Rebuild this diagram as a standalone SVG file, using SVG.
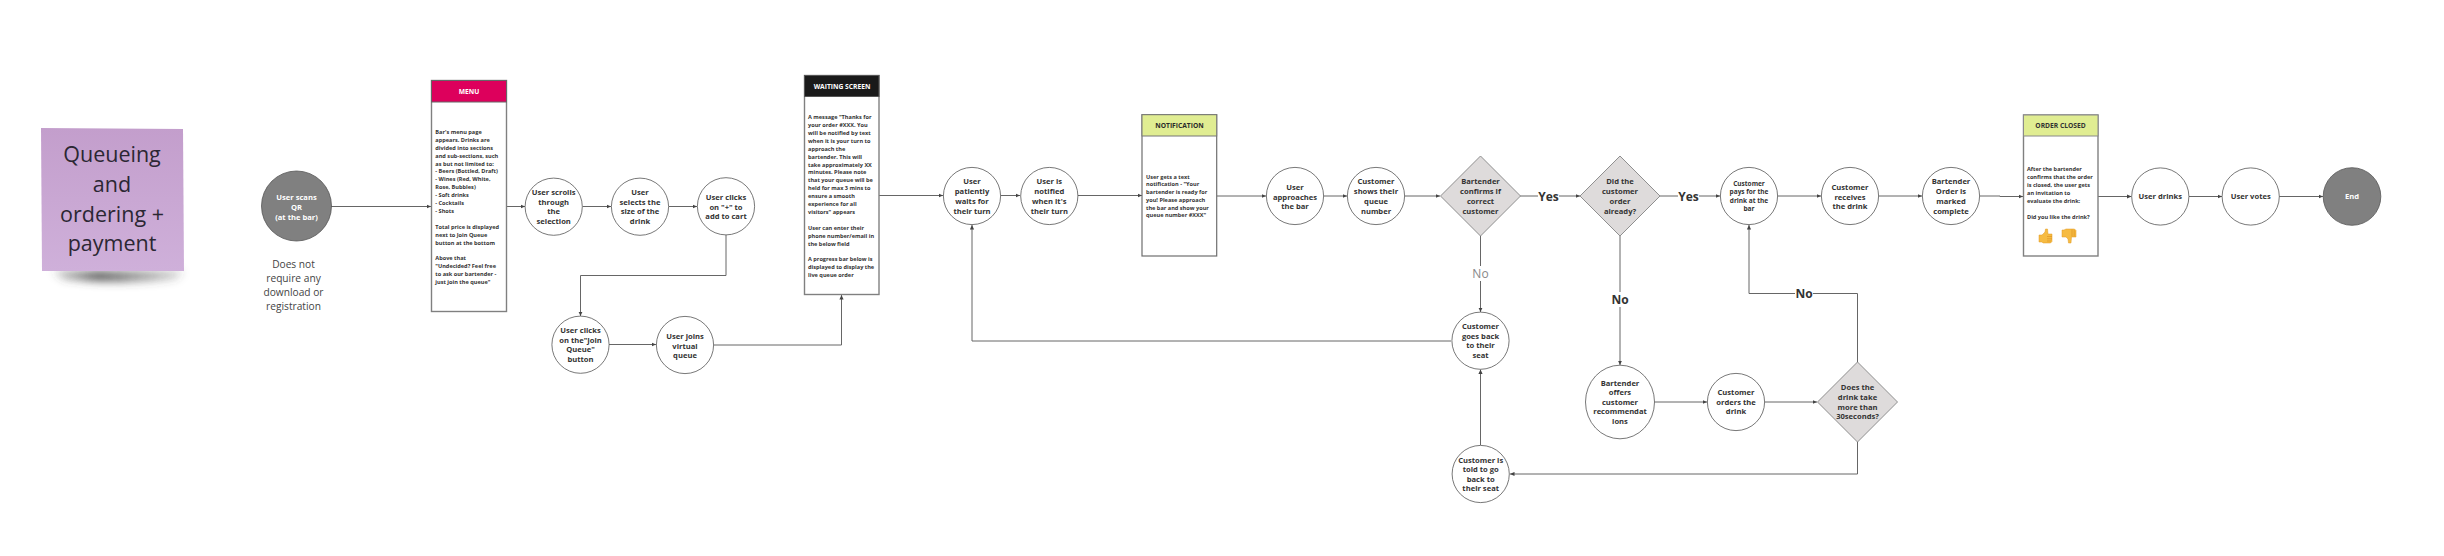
<svg xmlns="http://www.w3.org/2000/svg" width="2444" height="556" viewBox="0 0 2444 556">
<style>
text{font-family:"Open Sans","Noto Sans","Liberation Sans",sans-serif;fill:#333}
.c{fill:#fff;stroke:#555;stroke-width:.8}
.d{fill:#dedbdb;stroke:#8f8f8f;stroke-width:1}
.t{font-size:7.6px;font-weight:700;text-anchor:middle}
.p{font-size:5.6px;font-weight:700}
.b{fill:#fff;stroke:#808080;stroke-width:1.4}
.h{font-size:6.7px;font-weight:700;text-anchor:middle}
.l{fill:none;stroke:#666;stroke-width:1;marker-end:url(#a)}
.y{font-size:12px;font-weight:700;text-anchor:middle}
.e{fill:#f6bb42;stroke:#e09a25;stroke-width:.5}
.f{fill:none;stroke:#d98f1f;stroke-width:.6}
</style>
<defs>
<marker id="a" markerUnits="userSpaceOnUse" markerWidth="5" markerHeight="5" refX="4.5" refY="2.5" orient="auto"><path d="M0 .4L4.500 2.500L0 4.600Z" fill="#444"/></marker>
<linearGradient id="g" x1="0" y1="0" x2="0" y2="1"><stop offset="0" stop-color="#c39ecc"/><stop offset="1" stop-color="#cfb0da"/></linearGradient>
<linearGradient id="sh" x1="0" y1="0" x2="1" y2="0"><stop offset="0" stop-color="#444" stop-opacity=".25"/><stop offset=".35" stop-color="#444" stop-opacity=".85"/><stop offset="1" stop-color="#444" stop-opacity=".2"/></linearGradient>
<filter id="f" x="-20%" y="-120%" width="140%" height="340%"><feGaussianBlur stdDeviation="4"/></filter>
</defs>
<g id="sticky">
<path d="M52 271H184L176 279Q120 285 64 279Z" fill="url(#sh)" filter="url(#f)"/>
<polygon points="41,128 183,129 184,271 42,271" fill="url(#g)"/>
<text text-anchor="middle" font-size="21.500" style="fill:#2b2733"><tspan x="112" y="161.500">Queueing</tspan><tspan x="112" y="191.500">and</tspan><tspan x="112" y="221.500">ordering +</tspan><tspan x="112" y="251">payment</tspan></text>
</g>
<g id="connectors">
<path class="l" d="M331 206.500H431"/>
<path class="l" d="M506 206.500H525"/>
<path class="l" d="M582.500 206.500H611"/>
<path class="l" d="M669 206.500H697"/>
<path class="l" d="M726 235V275.500H580.500V316"/>
<path class="l" d="M609 344.500H656"/>
<path class="l" d="M714 345H841.500V295"/>
<path class="l" d="M879 195.500H943"/>
<path class="l" d="M1001 195.500H1020"/>
<path class="l" d="M1078 195.500H1142"/>
<path class="l" d="M1217 196H1266"/>
<path class="l" d="M1324 196H1347"/>
<path class="l" d="M1405 196H1440"/>
<path class="l" d="M1520 196H1580"/>
<path class="l" d="M1660 196H1720"/>
<path class="l" d="M1778 196H1821"/>
<path class="l" d="M1879 196H1922"/>
<path class="l" d="M1980 196H2000V196.500H2023"/>
<path class="l" d="M2098 196.500H2131.500"/>
<path class="l" d="M2189 196.500H2222"/>
<path class="l" d="M2279 196.500H2323"/>
<path class="l" d="M1480.500 236V312"/>
<path class="l" d="M1620 236V365"/>
<path class="l" d="M1654.500 402H1707"/>
<path class="l" d="M1765 402H1817"/>
<path class="l" d="M1857.500 362V293.500H1749V225"/>
<path class="l" d="M1857.500 442V474H1510"/>
<path class="l" d="M1480.500 445V369.500"/>
<path class="l" d="M1451 341H972V225"/>
<rect x="1538" y="188" width="21" height="16" fill="#fff"/><text class="y" x="1548.500" y="200.500">Yes</text>
<rect x="1678" y="188" width="21" height="16" fill="#fff"/><text class="y" x="1688.500" y="200.500">Yes</text>
<rect x="1472" y="266" width="17" height="15" fill="#fff"/><text class="y" x="1480.500" y="278" style="fill:#888;font-weight:400">No</text>
<rect x="1611" y="292" width="18" height="15" fill="#fff"/><text class="y" x="1620" y="304">No</text>
<rect x="1795" y="286" width="18" height="15" fill="#fff"/><text class="y" x="1804" y="297.500">No</text>
</g>
<g id="start"><circle cx="296.500" cy="206" r="35" fill="#808080" stroke="#555" stroke-width=".8"/><text class="t" style="fill:#fff"><tspan x="296.500" y="199.500">User scans</tspan><tspan x="296.500" y="209.500">QR</tspan><tspan x="296.500" y="219.500">(at the bar)</tspan></text></g>
<g id="note"><text text-anchor="middle" font-size="10.200" style="fill:#444"><tspan x="293.500" y="268">Does not</tspan><tspan x="293.500" y="282">require any</tspan><tspan x="293.500" y="296">download or</tspan><tspan x="293.500" y="310">registration</tspan></text></g>
<g id="menu"><rect class="b" x="431.500" y="80.500" width="75" height="231"/><rect x="431.500" y="80.500" width="75" height="21.500" fill="#dd005c" stroke="#666" stroke-width="1"/><text class="h" x="469" y="93.500" style="fill:#fff">MENU</text>
<text class="p"><tspan x="435.300" y="134">Bar's menu page</tspan><tspan x="435.300" y="142">appears. Drinks are</tspan><tspan x="435.300" y="150">divided into sections</tspan><tspan x="435.300" y="158">and sub-sections, such</tspan><tspan x="435.300" y="166">as but not limited to:</tspan><tspan x="435.300" y="173">- Beers (Bottled, Draft)</tspan><tspan x="435.300" y="181">- Wines (Red, White,</tspan><tspan x="435.300" y="189">Rose, Bubbles)</tspan><tspan x="435.300" y="197">- Soft drinks</tspan><tspan x="435.300" y="205">- Cocktails</tspan><tspan x="435.300" y="213">- Shots</tspan><tspan x="435.300" y="229">Total price is displayed</tspan><tspan x="435.300" y="237">next to Join Queue</tspan><tspan x="435.300" y="245">button at the bottom</tspan><tspan x="435.300" y="260">Above that</tspan><tspan x="435.300" y="268">"Undecided? Feel free</tspan><tspan x="435.300" y="276">to ask our bartender -</tspan><tspan x="435.300" y="284">just join the queue"</tspan></text></g>
<g id="scroll"><circle class="c" cx="553.700" cy="206.700" r="28.600"/><text class="t"><tspan x="553.700" y="195">User scrolls</tspan><tspan x="553.700" y="205">through</tspan><tspan x="553.700" y="214.400">the</tspan><tspan x="553.700" y="224.400">selection</tspan></text></g>
<g id="select"><circle class="c" cx="640" cy="206.700" r="28.600"/><text class="t"><tspan x="640" y="195">User</tspan><tspan x="640" y="205">selects the</tspan><tspan x="640" y="214.400">size of the</tspan><tspan x="640" y="224.400">drink</tspan></text></g>
<g id="add"><circle class="c" cx="726" cy="206.300" r="28.600"/><text class="t"><tspan x="726" y="200">User clicks</tspan><tspan x="726" y="209.500">on "+" to</tspan><tspan x="726" y="219">add to cart</tspan></text></g>
<g id="join"><circle class="c" cx="580.500" cy="344.700" r="28.600"/><text class="t"><tspan x="580.500" y="333">User clicks</tspan><tspan x="580.500" y="343">on the"Join</tspan><tspan x="580.500" y="352.400">Queue"</tspan><tspan x="580.500" y="362.400">button</tspan></text></g>
<g id="virtual"><circle class="c" cx="685" cy="345" r="28.600"/><text class="t"><tspan x="685" y="338.500">User joins</tspan><tspan x="685" y="348.500">virtual</tspan><tspan x="685" y="357.500">queue</tspan></text></g>
<g id="waiting"><rect class="b" x="804.500" y="75.500" width="74.500" height="219"/><rect x="804.500" y="75.500" width="74.500" height="21" fill="#1a1a1a" stroke="#555" stroke-width="1"/><text class="h" x="842" y="89" style="fill:#fff">WAITING SCREEN</text>
<text class="p"><tspan x="808" y="119">A message "Thanks for</tspan><tspan x="808" y="127">your order #XXX. You</tspan><tspan x="808" y="135">will be notified by text</tspan><tspan x="808" y="143">when it is your turn to</tspan><tspan x="808" y="151">approach the</tspan><tspan x="808" y="159">bartender. This will</tspan><tspan x="808" y="167">take approximately XX</tspan><tspan x="808" y="174">minutes. Please note</tspan><tspan x="808" y="182">that your queue will be</tspan><tspan x="808" y="190">held for max 3 mins to</tspan><tspan x="808" y="198">ensure a smooth</tspan><tspan x="808" y="206">experience for all</tspan><tspan x="808" y="214">visitors" appears</tspan><tspan x="808" y="230">User can enter their</tspan><tspan x="808" y="238">phone number/email in</tspan><tspan x="808" y="246">the below field</tspan><tspan x="808" y="261">A progress bar below is</tspan><tspan x="808" y="269">displayed to display the</tspan><tspan x="808" y="277">live queue order</tspan></text></g>
<g id="waits"><circle class="c" cx="972" cy="196" r="28.600"/><text class="t"><tspan x="972" y="184.300">User</tspan><tspan x="972" y="194.300">patiently</tspan><tspan x="972" y="203.700">waits for</tspan><tspan x="972" y="213.700">their turn</tspan></text></g>
<g id="notified"><circle class="c" cx="1049.300" cy="196" r="28.600"/><text class="t"><tspan x="1049.300" y="184.300">User is</tspan><tspan x="1049.300" y="194.300">notified</tspan><tspan x="1049.300" y="203.700">when it's</tspan><tspan x="1049.300" y="213.700">their turn</tspan></text></g>
<g id="notification"><rect x="1142" y="114.700" width="74.700" height="141.300" fill="#fff" stroke="#6e6e6e" stroke-width="1.200"/><rect x="1142" y="114.700" width="74.700" height="21.300" fill="#e0ed92" stroke="#777" stroke-width="1"/><text class="h" x="1179.500" y="128" style="fill:#2a2a2a">NOTIFICATION</text>
<text class="p"><tspan x="1146" y="179">User gets a text</tspan><tspan x="1146" y="186">notification - "Your</tspan><tspan x="1146" y="194">bartender is ready for</tspan><tspan x="1146" y="202">you! Please approach</tspan><tspan x="1146" y="210">the bar and show your</tspan><tspan x="1146" y="217">queue number #XXX"</tspan></text></g>
<g id="approach"><circle class="c" cx="1295" cy="196" r="28.600"/><text class="t"><tspan x="1295" y="189.500">User</tspan><tspan x="1295" y="199.500">approaches</tspan><tspan x="1295" y="208.500">the bar</tspan></text></g>
<g id="shows"><circle class="c" cx="1376" cy="196" r="28.600"/><text class="t"><tspan x="1376" y="184.300">Customer</tspan><tspan x="1376" y="194.300">shows their</tspan><tspan x="1376" y="203.700">queue</tspan><tspan x="1376" y="213.700">number</tspan></text></g>
<g id="confirm"><polygon class="d" points="1480.500,156 1520.500,196 1480.500,236 1440.500,196"/><text class="t"><tspan x="1480.500" y="184.300">Bartender</tspan><tspan x="1480.500" y="194.300">confirms if</tspan><tspan x="1480.500" y="203.700">correct</tspan><tspan x="1480.500" y="213.700">customer</tspan></text></g>
<g id="already"><polygon class="d" points="1620,156 1660,196 1620,236 1580,196"/><text class="t"><tspan x="1620" y="184.300">Did the</tspan><tspan x="1620" y="194.300">customer</tspan><tspan x="1620" y="203.700">order</tspan><tspan x="1620" y="213.700">already?</tspan></text></g>
<g id="pay"><circle class="c" cx="1749" cy="196" r="28.600"/><text class="t" style="font-size:6.500px"><tspan x="1749" y="186">Customer</tspan><tspan x="1749" y="194">pays for the</tspan><tspan x="1749" y="203">drink at the</tspan><tspan x="1749" y="211">bar</tspan></text></g>
<g id="receives"><circle class="c" cx="1850" cy="196" r="28.600"/><text class="t"><tspan x="1850" y="189.500">Customer</tspan><tspan x="1850" y="199.500">receives</tspan><tspan x="1850" y="208.500">the drink</tspan></text></g>
<g id="complete"><circle class="c" cx="1951" cy="196" r="28.600"/><text class="t"><tspan x="1951" y="184.300">Bartender</tspan><tspan x="1951" y="194.300">Order is</tspan><tspan x="1951" y="203.700">marked</tspan><tspan x="1951" y="213.700">complete</tspan></text></g>
<g id="closed"><rect class="b" x="2023.500" y="115" width="74.500" height="141"/><rect x="2023.500" y="115" width="74.500" height="21" fill="#e0ed92" stroke="#8a8a8a" stroke-width="1"/><text class="h" x="2060.500" y="128">ORDER CLOSED</text>
<text class="p"><tspan x="2027" y="171">After the bartender</tspan><tspan x="2027" y="179">confirms that the order</tspan><tspan x="2027" y="187">is closed, the user gets</tspan><tspan x="2027" y="195">an invitation to</tspan><tspan x="2027" y="203">evaluate the drink:</tspan><tspan x="2027" y="219">Did you like the drink?</tspan></text>
<path class="e" d="M2039 235H2042L2045 232L2045.500 229H2047.500L2048 234H2052V241.500L2050.500 243H2043L2042 242H2039Z"/>
<path class="f" d="M2047 236.500H2052M2047 238.800H2052M2047 241H2051"/>
<path class="e" d="M2062 230H2064L2066 229H2074.500L2076 230.500V237H2071.500L2071 243H2068.500L2068 239L2066 237H2062Z"/>
<path class="f" d="M2072 229.500V236.500M2074.200 230V236.500"/></g>
<g id="drinks"><circle class="c" cx="2160.300" cy="196.500" r="28.600"/><text class="t" x="2160.300" y="199.300">User drinks</text></g>
<g id="votes"><circle class="c" cx="2250.700" cy="196.500" r="28.600"/><text class="t" x="2250.700" y="199.300">User votes</text></g>
<g id="end"><circle cx="2352" cy="196.500" r="28.800" fill="#808080" stroke="#555" stroke-width=".8"/><text class="t" x="2352" y="199.300" style="fill:#fff">End</text></g>
<g id="goback"><circle class="c" cx="1480.500" cy="340.700" r="28.600"/><text class="t"><tspan x="1480.500" y="329">Customer</tspan><tspan x="1480.500" y="339">goes back</tspan><tspan x="1480.500" y="348.400">to their</tspan><tspan x="1480.500" y="358.400">seat</tspan></text></g>
<g id="told"><circle class="c" cx="1480.700" cy="474" r="28.600"/><text class="t"><tspan x="1480.700" y="463.300">Customer is</tspan><tspan x="1480.700" y="472.300">told to go</tspan><tspan x="1480.700" y="481.700">back to</tspan><tspan x="1480.700" y="491">their seat</tspan></text></g>
<g id="recommend"><ellipse class="c" cx="1620" cy="402" rx="34.500" ry="36.800"/><text class="t"><tspan x="1620" y="386">Bartender</tspan><tspan x="1620" y="395">offers</tspan><tspan x="1620" y="405">customer</tspan><tspan x="1620" y="414">recommendat</tspan><tspan x="1620" y="424">ions</tspan></text></g>
<g id="orders"><circle class="c" cx="1736" cy="402" r="28.600"/><text class="t"><tspan x="1736" y="395">Customer</tspan><tspan x="1736" y="405">orders the</tspan><tspan x="1736" y="414">drink</tspan></text></g>
<g id="long"><polygon class="d" points="1857.500,362 1897.500,402 1857.500,442 1817.500,402"/><text class="t"><tspan x="1857.500" y="390.300">Does the</tspan><tspan x="1857.500" y="400.300">drink take</tspan><tspan x="1857.500" y="409.700">more than</tspan><tspan x="1857.500" y="419">30seconds?</tspan></text></g>
</svg>
